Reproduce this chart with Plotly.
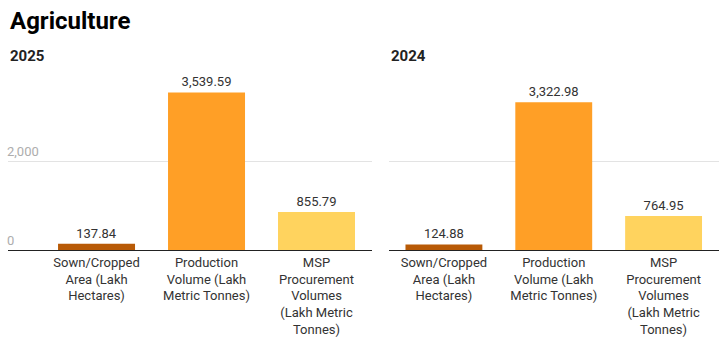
import plotly.graph_objects as go

W, H = 727, 344

categories = [
    "Sown/Cropped<br>Area (Lakh<br>Hectares)",
    "Production<br>Volume (Lakh<br>Metric Tonnes)",
    "MSP<br>Procurement<br>Volumes<br>(Lakh Metric<br>Tonnes)",
]
values_2025 = [137.84, 3539.59, 855.79]
values_2024 = [124.88, 3322.98, 764.95]
bar_colors = ["#B85A06", "#FF9F26", "#FFD35E"]
panel_titles = ["2025", "2024"]
y_ticks = [0, 2000]
y_tick_text = ["0", "2,000"]

FONT = "Roboto"
x_idx = [0, 1, 2]

fig = go.Figure()

for i, vals in enumerate([values_2025, values_2024]):
    sfx = "" if i == 0 else "2"
    fig.add_trace(go.Bar(
        x=x_idx, y=vals,
        marker=dict(color=bar_colors, line=dict(width=0)),
        texttemplate="%{y:,.2f}",
        textposition="outside",
        textfont=dict(family=FONT, size=13, color="#333333"),
        cliponaxis=False,
        hoverinfo="skip",
        xaxis="x" + sfx, yaxis="y" + sfx,
        showlegend=False,
    ))

y_dom = [(H - 250) / H, (H - 70) / H]
y_range = [0, 180 / 89 * 2000]

common_x = dict(
    tickmode="array", tickvals=x_idx, ticktext=categories,
    tickfont=dict(family=FONT, size=13, color="#333333"),
    showline=True, linecolor="#222222", linewidth=1,
    showgrid=False, zeroline=False, ticks="", fixedrange=True,
)
common_y = dict(
    range=y_range, domain=y_dom, tickvals=y_ticks, ticktext=y_tick_text,
    showgrid=True, gridcolor="#E3E3E3", gridwidth=1, zeroline=False,
    showline=False, ticks="", fixedrange=True,
)

fig.update_layout(
    width=W, height=H,
    margin=dict(l=0, r=0, t=0, b=0),
    paper_bgcolor="white", plot_bgcolor="white",
    bargap=0.3,
    font=dict(family=FONT, color="#333333"),
    xaxis=dict(common_x, domain=[8 / W, 371.5 / W], range=[-0.805, 2.5], anchor="y"),
    yaxis=dict(common_y, anchor="x", ticklabelposition="inside top",
               ticklabelstandoff=-4,
               tickfont=dict(family=FONT, size=13, color="#ADADAD")),
    xaxis2=dict(common_x, domain=[389 / W, 718.5 / W], range=[-0.5, 2.5], anchor="y2"),
    yaxis2=dict(common_y, anchor="x2", showticklabels=False),
)

fig.add_annotation(text="<b>Agriculture</b>", xref="paper", yref="paper",
                   x=8 / W, y=1 - 21 / H, xanchor="left", yanchor="middle",
                   showarrow=False, font=dict(family=FONT, size=24, color="#000000"))
for title, px in zip(panel_titles, [8, 389]):
    fig.add_annotation(text="<b>%s</b>" % title, xref="paper", yref="paper",
                       x=px / W, y=1 - 56 / H, xanchor="left", yanchor="middle",
                       showarrow=False, font=dict(family=FONT, size=15, color="#222222"))

fig.write_html("out.html")
